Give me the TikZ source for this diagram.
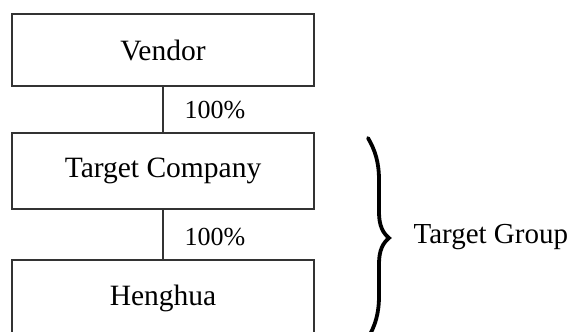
\documentclass[tikz,border=0pt]{standalone}
\usepackage{fontspec}
\setmainfont{Liberation Serif}
\begin{document}
\begin{tikzpicture}[x=1pt,y=-1pt,
  box/.style={draw=black!80,line width=1.4pt,minimum width=302pt,inner sep=0pt,font=\fontsize{29.5}{34}\selectfont},
  conn/.style={draw=black!80,line width=1.4pt},
  pct/.style={font=\fontsize{26}{30}\selectfont,anchor=west},
  brace/.style={line width=3.8pt,line cap=round},
  grp/.style={font=\fontsize{29}{34}\selectfont,anchor=west}]
\useasboundingbox (0,0) rectangle (573,332);
\clip (0,0) rectangle (573,332);
\node[box,minimum height=72pt] (vendor) at (163,50) {Vendor};
\node[box,minimum height=76pt] (target) at (163,171) {Target Company};
\node[box,minimum height=76pt] (heng) at (163,298) {Henghua};
\draw[conn] (vendor.south) -- (target.north);
\draw[conn] (target.south) -- (heng.north);
\node[pct] (p1) at (181,110) {100\%};
\node[pct] (p2) at (181,237) {100\%};
\coordinate (btop) at (368,138);
\coordinate (btip) at (389,238);
\coordinate (bbot) at (368,338);
\draw[brace] (btop) .. controls (375,150) and (379,162) .. (379,180)
  -- (379,212) .. controls (379,226) and (383,233) .. (btip)
  .. controls (383,243) and (379,250) .. (379,264)
  -- (379,296) .. controls (379,314) and (375,326) .. (bbot);
\node[grp] (tg) at (410,237) {Target Group};
\end{tikzpicture}
\end{document}
